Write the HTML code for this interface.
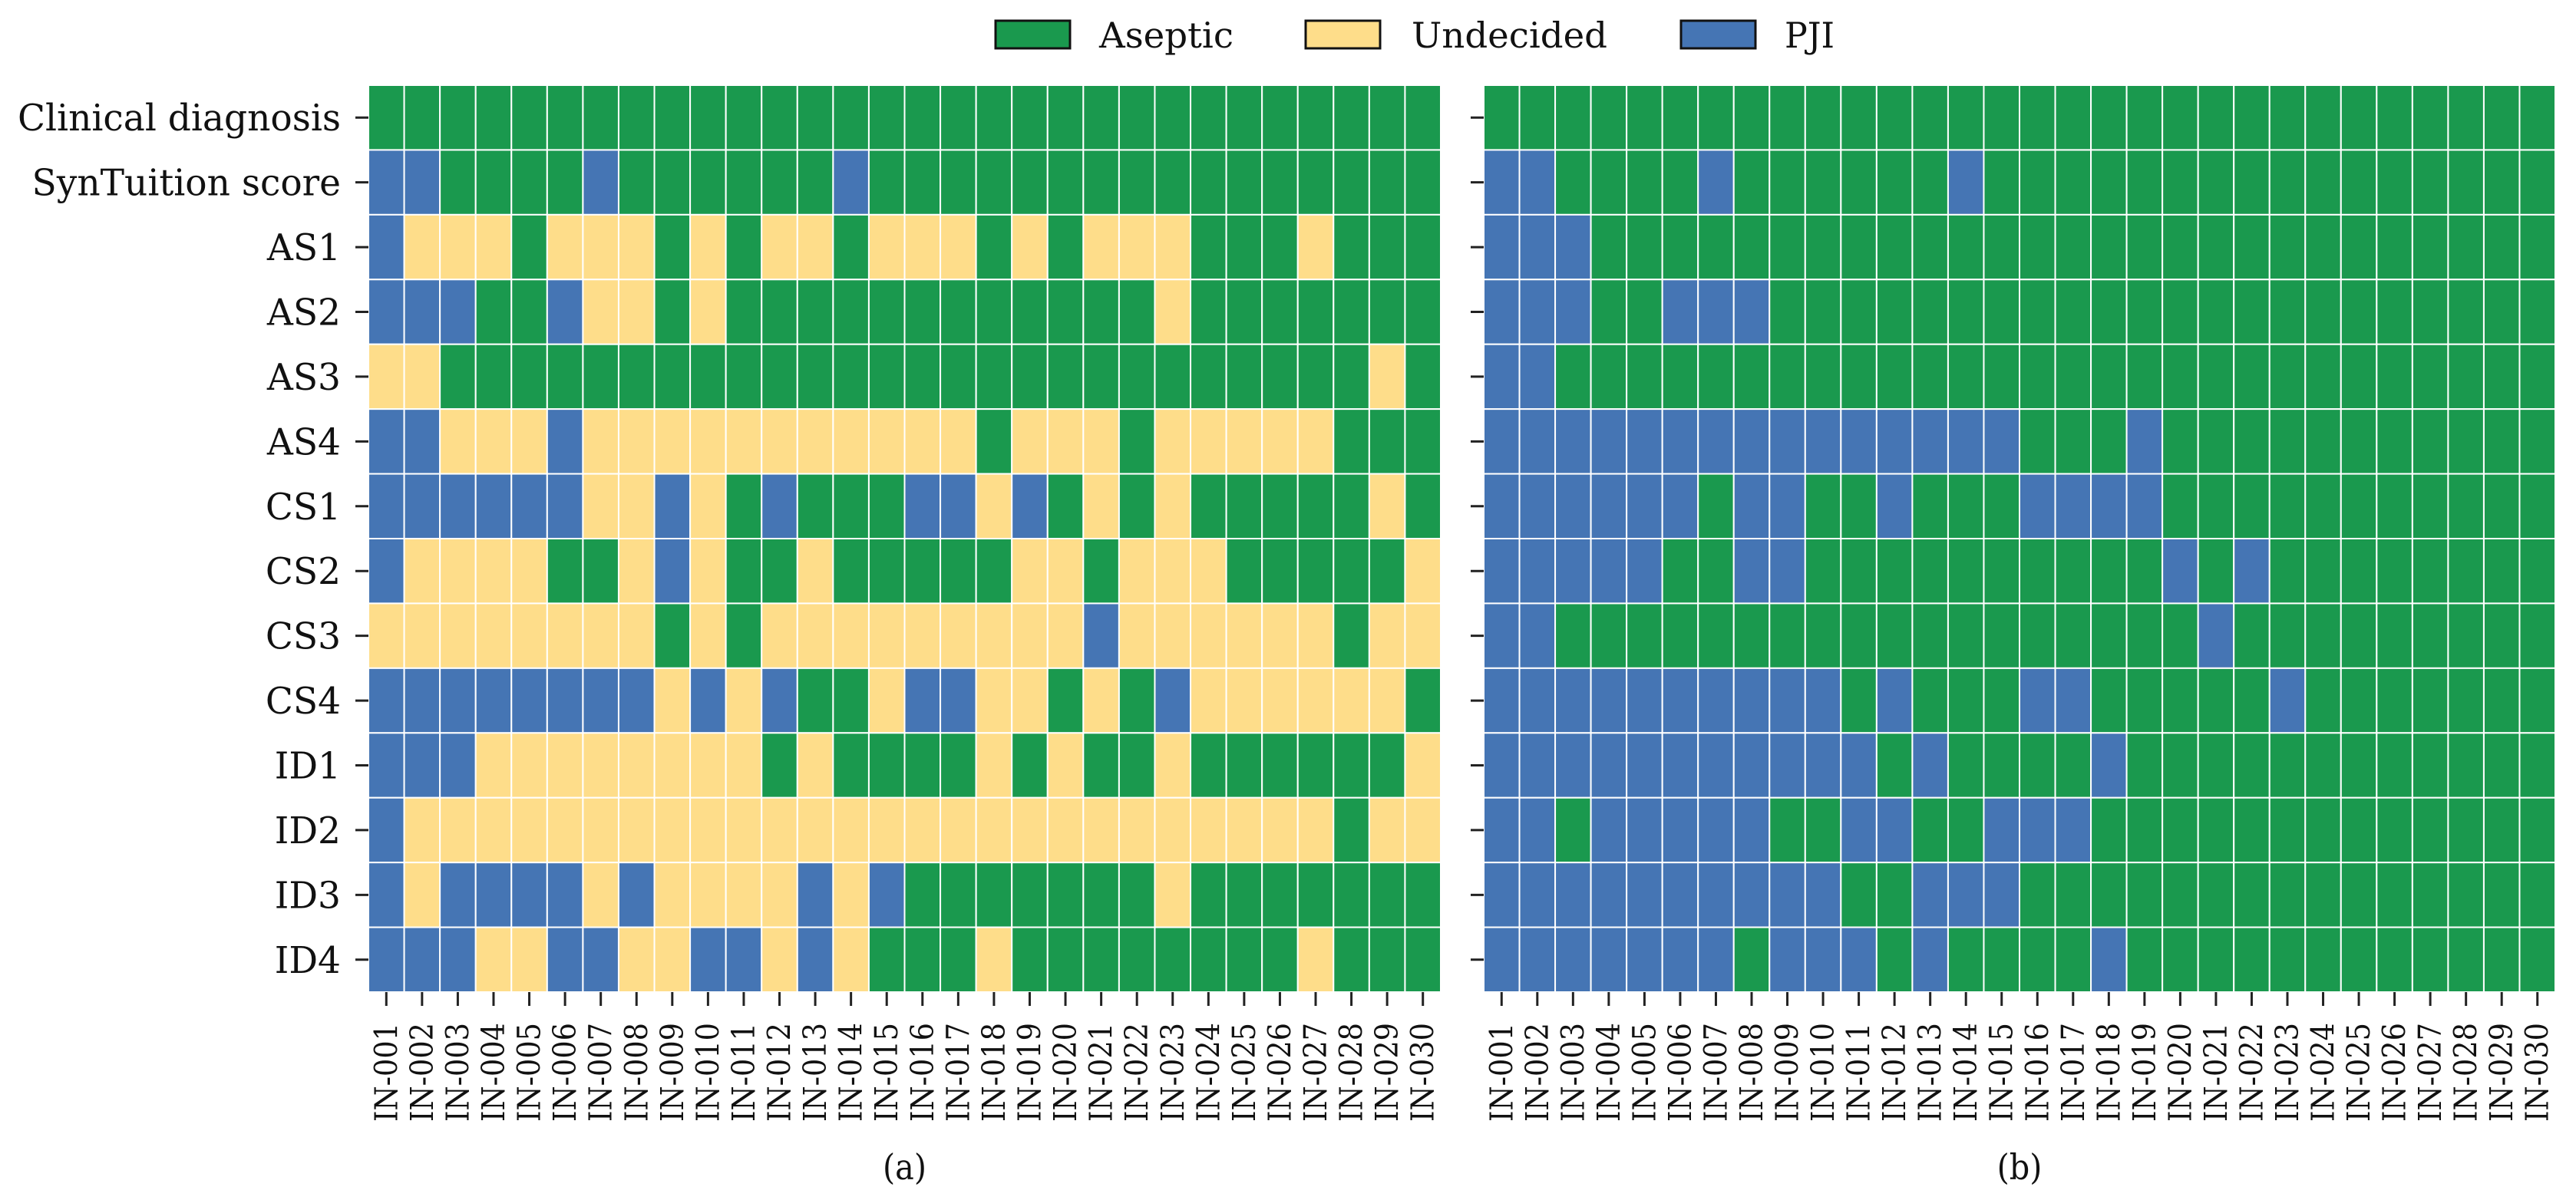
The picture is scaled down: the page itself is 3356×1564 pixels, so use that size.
<!DOCTYPE html>
<html><head><meta charset="utf-8"><style>
html,body{margin:0;padding:0;background:#fff;}
svg{display:block;font-family:"DejaVu Serif Condensed","DejaVu Serif","Liberation Serif",serif;}
</style></head><body>
<svg id="chart" width="3356" height="1564" viewBox="0 0 3356 1564" xmlns="http://www.w3.org/2000/svg"></svg>
<script>
const rowLabels = ["Clinical diagnosis","SynTuition score","AS1","AS2","AS3","AS4","CS1","CS2","CS3","CS4","ID1","ID2","ID3","ID4"];
const caseLabels = Array.from({length:30},(_,i)=>"IN-"+String(i+1).padStart(3,"0"));
const categories = ["Aseptic","Undecided","PJI"];
// A=Aseptic, U=Undecided, P=PJI
const panelA = [
"AAAAAAAAAAAAAAAAAAAAAAAAAAAAAA",
"PPAAAAPAAAAAAPAAAAAAAAAAAAAAAA",
"PUUUAUUUAUAUUAUUUAUAUUUAAAUAAA",
"PPPAAPUUAUAAAAAAAAAAAAUAAAAAAA",
"UUAAAAAAAAAAAAAAAAAAAAAAAAAAUA",
"PPUUUPUUUUUUUUUUUAUUUAUUUUUAAA",
"PPPPPPUUPUAPAAAPPUPAUAUAAAAAUA",
"PUUUUAAUPUAAUAAAAAUUAUUUAAAAAU",
"UUUUUUUUAUAUUUUUUUUUPUUUUUUAUU",
"PPPPPPPPUPUPAAUPPUUAUAPUUUUUUA",
"PPPUUUUUUUUAUAAAAUAUAAUAAAAAAU",
"PUUUUUUUUUUUUUUUUUUUUUUUUUUAUU",
"PUPPPPUPUUUUPUPAAAAAAAUAAAAAAA",
"PPPUUPPUUPPUPUAAAUAAAAAAAAUAAA"];
const panelB = [
"AAAAAAAAAAAAAAAAAAAAAAAAAAAAAA",
"PPAAAAPAAAAAAPAAAAAAAAAAAAAAAA",
"PPPAAAAAAAAAAAAAAAAAAAAAAAAAAA",
"PPPAAPPPAAAAAAAAAAAAAAAAAAAAAA",
"PPAAAAAAAAAAAAAAAAAAAAAAAAAAAA",
"PPPPPPPPPPPPPPPAAAPAAAAAAAAAAA",
"PPPPPPAPPAAPAAAPPPPAAAAAAAAAAA",
"PPPPPAAPPAAAAAAAAAAPAPAAAAAAAA",
"PPAAAAAAAAAAAAAAAAAAPAAAAAAAAA",
"PPPPPPPPPPAPAAAPPAAAAAPAAAAAAA",
"PPPPPPPPPPPAPAAAAPAAAAAAAAAAAA",
"PPAPPPPPAAPPAAPPPAAAAAAAAAAAAA",
"PPPPPPPPPPAAPPPAAAAAAAAAAAAAAA",
"PPPPPPPAPPPAPAAAAPAAAAAAAAAAAA"];
const colors = {A:"#1a994e",U:"#fedd8a",P:"#4575b4"};
const NS="http://www.w3.org/2000/svg";
const svg=document.getElementById("chart");
function mk(tag,attrs,parent){const e=document.createElementNS(NS,tag);for(const k in attrs)e.setAttribute(k,attrs[k]);(parent||svg).appendChild(e);return e;}
const top0=111, bot0=1293;
const rowH=(bot0-top0)/rowLabels.length;
const panels=[{x0:480,x1:1877,data:panelA,cap:"(a)",name:"panel-a"},{x0:1933,x1:3329,data:panelB,cap:"(b)",name:"panel-b"}];
const yPos=r=>top0+r*rowH;
const yTexts=[];
panels.forEach((p,pi)=>{
  const g=mk("g",{});
  
  
  const cw=(p.x1-p.x0)/caseLabels.length;
  const xPos=c=>p.x0+c*cw;
  p.data.forEach((row,r)=>{
    for(let c=0;c<row.length;c++){
      const rc=mk("rect",{x:xPos(c),y:yPos(r),width:cw,height:rowH,fill:colors[row[c]],stroke:"#ffffff","stroke-width":2},g);
      
      
    }
  });
  rowLabels.forEach((lab,r)=>{
    const yc=yPos(r)+rowH/2;
    mk("line",{x1:p.x0-17,x2:p.x0,y1:yc,y2:yc,stroke:"#222","stroke-width":3},g);
    if(pi===0){
      const t=mk("text",{x:444,y:yc+17,"text-anchor":"end","font-size":48,fill:"#111"},g);
      t.textContent=lab;
      
      
      yTexts.push(t);
    }
  });
  caseLabels.forEach((lab,c)=>{
    const xc=xPos(c)+cw/2;
    mk("line",{x1:xc,x2:xc,y1:bot0,y2:bot0+18,stroke:"#222","stroke-width":3},g);
    const t=mk("text",{x:0,y:0,transform:`translate(${xc+14},1333) rotate(-90)`,"text-anchor":"end","font-size":41,fill:"#111",textLength:129,lengthAdjust:"spacingAndGlyphs"},g);
    t.textContent=lab;
    
    
  });
  const cap=mk("text",{x:(p.x0+p.x1)/2,y:1537,"text-anchor":"middle","font-size":46,fill:"#111"},g);
  cap.textContent=p.cap;
  
  
});
// scale y labels so "Clinical diagnosis" spans ~421px
const base=yTexts[0].getComputedTextLength();
const sc=base>0?421/base:1;
yTexts.forEach(t=>{const L=t.getComputedTextLength();if(L>0){t.setAttribute("textLength",L*sc);t.setAttribute("lengthAdjust","spacingAndGlyphs");}});
// legend
const legX=[1297,1701,2190], legTxt=[1432,1839,2325], legW=[175,255,65], legKeys=["A","U","P"];
categories.forEach((cat,i)=>{
  const r=mk("rect",{x:legX[i],y:27,width:97,height:36,fill:colors[legKeys[i]],stroke:"#111","stroke-width":3});
  
  
  const t=mk("text",{x:legTxt[i],y:62,"font-size":46,fill:"#111",textLength:legW[i],lengthAdjust:"spacingAndGlyphs"});
  t.textContent=cat;
  
  
});
</script>
</body></html>
